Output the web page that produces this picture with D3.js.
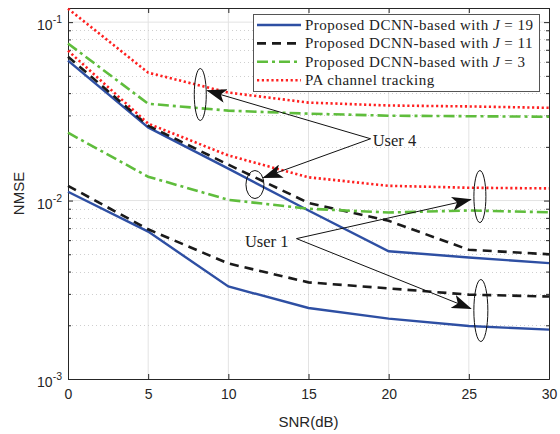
<!DOCTYPE html>
<html>
<head>
<meta charset="utf-8">
<script src="https://cdn.jsdelivr.net/npm/d3@7"></script>
<style>
body { margin: 0; background: #fff; }
svg { display: block; }
</style>
</head>
<body>
<svg id="chart" width="560" height="434"></svg>
<script>
// SNR points
var snr = [0, 5, 10, 15, 20, 25, 30];

// user 4 curves
var u4J19 = [0.0608, 0.0257, 0.0151, 0.0088, 0.0052, 0.0048, 0.00446];
var u4J11 = [0.064, 0.0263, 0.0159, 0.0097, 0.0077, 0.0053, 0.0050];
var u4J3 = [0.0759, 0.0349, 0.0319, 0.0307, 0.0299, 0.0297, 0.0295];
var u4PA = [0.119, 0.0521, 0.0403, 0.0354, 0.0341, 0.0337, 0.0331];

// user 1 curves
var u1J19 = [0.0112, 0.0067, 0.0033, 0.0025, 0.00218, 0.00198, 0.00189];
var u1J11 = [0.0121, 0.0069, 0.00444, 0.00348, 0.00322, 0.00297, 0.0029];
var u1J3 = [0.024, 0.0136, 0.0101, 0.0090, 0.00857, 0.0088, 0.0086];
var u1PA = [0.0692, 0.027, 0.0179, 0.0135, 0.0121, 0.0118, 0.0117];

var legendLabels = ["Proposed DCNN-based with ", "Proposed DCNN-based with ",
                    "Proposed DCNN-based with ", "PA channel tracking"];
var legendJ = ["19", "11", "3", null];

var xTicks = [0, 5, 10, 15, 20, 25, 30];
var yMajor = [1e-3, 1e-2, 1e-1];
var yExp = ["-3", "-2", "-1"];

// annotation ellipses [snr, nmse]
var ellipses = [[8.25, 0.0393, 6, 26], [11.66, 0.0123, 9, 14],
                [25.69, 0.01053, 6, 26], [25.75, 0.00242, 7, 31]];
// arrows: from label to ellipse
var arrows4 = [[18.875, 0.0222, 8.69, 0.0413], [18.875, 0.0222, 12.19, 0.01346]];
var arrows1 = [[14.25, 0.00612, 25.125, 0.01013], [14.25, 0.00612, 25.125, 0.00248]];

var mLeft = 68, mRight = 549, mTop = 8, mBottom = 379;

var svg = d3.select("#chart");

var x = d3.scaleLinear().domain([0, 30]).range([mLeft, mRight]);
var y = d3.scaleLog().domain([1e-3, 0.12]).range([mBottom, mTop]);

var styles = [
  {color: "#2e4fa3", dash: null, w: 2.4},
  {color: "#1a1a1a", dash: "9,6", w: 2.6},
  {color: "#5fbd3c", dash: "11,4,3,4", w: 2.6},
  {color: "#ff2020", dash: "2.2,2.6", w: 2.6}
];

// grid
var yMinor = [];
[1e-3, 1e-2, 1e-1].forEach(function(d) {
  for (var k = 2; k <= 9; k++) {
    if (d * k <= 0.12) yMinor.push(d * k);
  }
});
var grid = svg.append("g");
grid.selectAll(".gx").data(xTicks.slice(1, -1)).enter().append("line")
  .attr("x1", function(d) { return x(d); }).attr("x2", function(d) { return x(d); })
  .attr("y1", mTop).attr("y2", mBottom)
  .attr("stroke", "#e3e3e3").attr("stroke-width", 1);
grid.selectAll(".gy").data(yMinor).enter().append("line")
  .attr("x1", mLeft).attr("x2", mRight)
  .attr("y1", function(d) { return Math.round(y(d)) + 0.5; })
  .attr("y2", function(d) { return Math.round(y(d)) + 0.5; })
  .attr("stroke", "#cfcfcf").attr("stroke-width", 1).attr("stroke-dasharray", "1,3");
grid.selectAll(".gym").data(yMajor.slice(1)).enter().append("line")
  .attr("x1", mLeft).attr("x2", mRight)
  .attr("y1", function(d) { return y(d); }).attr("y2", function(d) { return y(d); })
  .attr("stroke", "#e3e3e3").attr("stroke-width", 1);

// axes
var axisCol = "#262626";
var xb = svg.append("g").attr("transform", "translate(0," + mBottom + ")")
  .call(d3.axisBottom(x).tickValues(xTicks).tickSizeInner(-5).tickSizeOuter(0).tickPadding(10));
var xt = svg.append("g").attr("transform", "translate(0," + mTop + ")")
  .call(d3.axisTop(x).tickValues(xTicks).tickSizeInner(-5).tickSizeOuter(0).tickFormat(""));
var yl = svg.append("g").attr("transform", "translate(" + mLeft + ",0)")
  .call(d3.axisLeft(y).tickValues(yMajor).tickSizeInner(-5).tickSizeOuter(0).tickFormat(""));
var yr = svg.append("g").attr("transform", "translate(" + mRight + ",0)")
  .call(d3.axisRight(y).tickValues(yMajor).tickSizeInner(-5).tickSizeOuter(0).tickFormat(""));
var ylm = svg.append("g").attr("transform", "translate(" + mLeft + ",0)")
  .call(d3.axisLeft(y).tickValues(yMinor).tickSizeInner(-3).tickSizeOuter(0).tickFormat(""));
var yrm = svg.append("g").attr("transform", "translate(" + mRight + ",0)")
  .call(d3.axisRight(y).tickValues(yMinor).tickSizeInner(-3).tickSizeOuter(0).tickFormat(""));
[xb, xt, yl, yr, ylm, yrm].forEach(function(g) {
  g.select(".domain").attr("stroke", axisCol);
  g.selectAll(".tick line").attr("stroke", axisCol);
});
xb.selectAll("text").attr("fill", axisCol)
  .style("font-family", "Liberation Sans, Arial, sans-serif").style("font-size", "14px");

// y tick labels 10^n
var ylab = svg.append("g");
yMajor.forEach(function(d, i) {
  var t = ylab.append("text").attr("x", mLeft - 6).attr("y", y(d) + 8)
    .attr("text-anchor", "end").attr("fill", axisCol)
    .style("font-family", "Liberation Sans, Arial, sans-serif").style("font-size", "14px");
  t.append("tspan").text("10");
  t.append("tspan").attr("dy", -7).style("font-size", "10.5px").text(yExp[i]);
});

// axis titles
svg.append("text").attr("x", (mLeft + mRight) / 2).attr("y", 427)
  .attr("text-anchor", "middle").attr("fill", axisCol)
  .style("font-family", "Liberation Sans, Arial, sans-serif").style("font-size", "15px")
  .text("SNR(dB)");
svg.append("text").attr("transform", "translate(24," + ((mTop + mBottom) / 2) + ") rotate(-90)")
  .attr("text-anchor", "middle").attr("fill", axisCol)
  .style("font-family", "Liberation Sans, Arial, sans-serif").style("font-size", "15px")
  .text("NMSE");

// curves
var line = d3.line().x(function(d) { return x(d[0]); }).y(function(d) { return y(d[1]); });
var curves = [[u4J19, 0], [u4J11, 1], [u4J3, 2], [u4PA, 3],
              [u1J19, 0], [u1J11, 1], [u1J3, 2], [u1PA, 3]];
var plot = svg.append("g");
curves.forEach(function(c) {
  var s = styles[c[1]];
  plot.append("path")
    .datum(d3.zip(snr, c[0]))
    .attr("d", line)
    .attr("fill", "none")
    .attr("stroke", s.color)
    .attr("stroke-width", s.w)
    .attr("stroke-dasharray", s.dash);
});

// annotations
var defs = svg.append("defs");
defs.append("marker").attr("id", "arr").attr("viewBox", "0 0 20 14")
  .attr("refX", 19).attr("refY", 7).attr("markerWidth", 20).attr("markerHeight", 14)
  .attr("markerUnits", "userSpaceOnUse").attr("orient", "auto")
  .append("path").attr("d", "M0,0 L20,7 L0,14 L5,7 Z").attr("fill", "#111");

var ann = svg.append("g");
ellipses.forEach(function(e) {
  ann.append("ellipse").attr("cx", x(e[0])).attr("cy", y(e[1]))
    .attr("rx", e[2]).attr("ry", e[3])
    .attr("fill", "none").attr("stroke", "#111").attr("stroke-width", 1);
});
arrows4.concat(arrows1).forEach(function(a) {
  ann.append("line").attr("x1", x(a[0])).attr("y1", y(a[1]))
    .attr("x2", x(a[2])).attr("y2", y(a[3]))
    .attr("stroke", "#111").attr("stroke-width", 1)
    .attr("marker-end", "url(#arr)");
});
ann.append("text").attr("x", x(19.0)).attr("y", y(0.0201))
  .style("font-family", "Liberation Serif, Times New Roman, serif").style("font-size", "16.5px")
  .attr("fill", "#222").text("User 4");
ann.append("text").attr("x", x(13.75)).attr("y", y(0.00546)).attr("text-anchor", "end")
  .style("font-family", "Liberation Serif, Times New Roman, serif").style("font-size", "16.5px")
  .attr("fill", "#222").text("User 1");

// legend
var lg = svg.append("g");
lg.append("rect").attr("x", 253.5).attr("y", 14.5).attr("width", 286).attr("height", 77)
  .attr("fill", "#fff").attr("stroke", "#555").attr("stroke-width", 1);
styles.forEach(function(s, i) {
  var ly = 25 + i * 18.4;
  lg.append("line").attr("x1", 257).attr("x2", 301).attr("y1", ly).attr("y2", ly)
    .attr("stroke", s.color).attr("stroke-width", s.w).attr("stroke-dasharray", s.dash);
  var t = lg.append("text").attr("x", 305).attr("y", ly + 5).attr("fill", "#222")
    .style("font-family", "Liberation Serif, Times New Roman, serif").style("font-size", "15px")
    .style("letter-spacing", "0.5px");
  t.append("tspan").text(legendLabels[i]);
  if (legendJ[i]) {
    t.append("tspan").style("font-style", "italic").text("J");
    t.append("tspan").text(" = " + legendJ[i]);
  }
});
</script>
</body>
</html>
